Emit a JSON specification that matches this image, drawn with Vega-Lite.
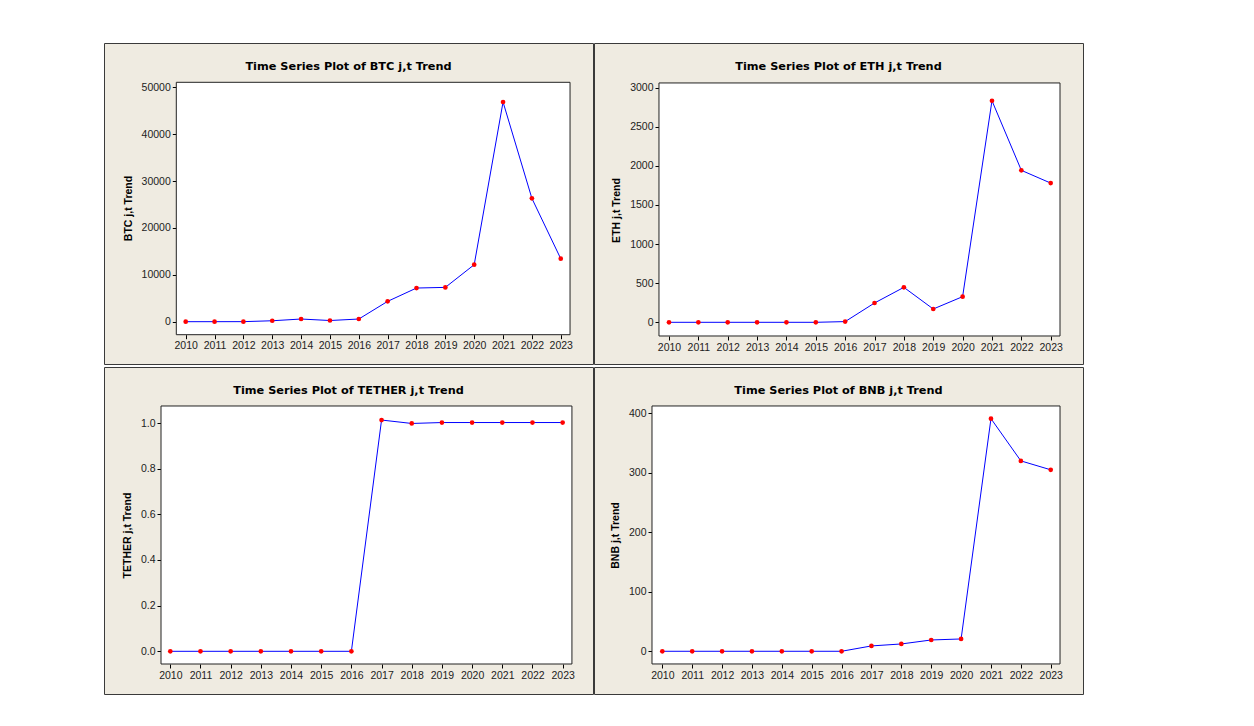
{
  "$schema": "https://vega.github.io/schema/vega-lite/v6.json",
  "background": "white",
  "padding": {"left": 103, "top": 42, "right": 0, "bottom": 0},
  "data": {"values": [
    {"year": 2010, "BTC": 0.3, "ETH": 0, "TETHER": 0, "BNB": 0},
    {"year": 2011, "BTC": 5, "ETH": 0, "TETHER": 0, "BNB": 0},
    {"year": 2012, "BTC": 10, "ETH": 0, "TETHER": 0, "BNB": 0},
    {"year": 2013, "BTC": 200, "ETH": 0, "TETHER": 0, "BNB": 0},
    {"year": 2014, "BTC": 570, "ETH": 0, "TETHER": 0, "BNB": 0},
    {"year": 2015, "BTC": 250, "ETH": 0, "TETHER": 0, "BNB": 0},
    {"year": 2016, "BTC": 570, "ETH": 9, "TETHER": 0, "BNB": 0},
    {"year": 2017, "BTC": 4340, "ETH": 247, "TETHER": 1.013, "BNB": 9},
    {"year": 2018, "BTC": 7180, "ETH": 447, "TETHER": 0.998, "BNB": 12.3},
    {"year": 2019, "BTC": 7320, "ETH": 170, "TETHER": 1.002, "BNB": 19},
    {"year": 2020, "BTC": 12160, "ETH": 328, "TETHER": 1.002, "BNB": 20.7},
    {"year": 2021, "BTC": 46860, "ETH": 2833, "TETHER": 1.002, "BNB": 391},
    {"year": 2022, "BTC": 26310, "ETH": 1943, "TETHER": 1.002, "BNB": 320},
    {"year": 2023, "BTC": 13440, "ETH": 1780, "TETHER": 1.002, "BNB": 305}
  ]},
  "bounds": "flush",
  "columns": 2,
  "spacing": {"row": 3, "column": 1},
  "concat": [
    {
      "width": 489, "height": 321,
      "title": {"text": "Time Series Plot of BTC j,t Trend"},
      "layer": [
        {"data": {"values": [{}]}, "mark": {"type": "rect", "fill": "white", "stroke": "#222", "strokeWidth": 1},
         "encoding": {
           "x": {"datum": 2009.674, "type": "quantitative", "axis": {"title": null, "values": [2010,2011,2012,2013,2014,2015,2016,2017,2018,2019,2020,2021,2022,2023], "format": "d", "offset": -29.3}},
           "x2": {"datum": 2023.322},
           "y": {"datum": -2773, "type": "quantitative", "axis": {"title": "BTC j,t Trend", "values": [0,10000,20000,30000,40000,50000], "format": "d", "offset": -72.3, "titleY": 165}},
           "y2": {"datum": 51067}}},
        {"mark": {"type": "line", "color": "#0000FF", "strokeWidth": 1},
         "encoding": {
           "x": {"field": "year", "type": "quantitative", "scale": {"domain": [2007.168, 2024.118], "nice": false, "zero": false},
                 "axis": {"title": null, "values": [2010,2011,2012,2013,2014,2015,2016,2017,2018,2019,2020,2021,2022,2023], "format": "d", "offset": -29.3}},
           "y": {"field": "BTC", "type": "quantitative", "scale": {"domain": [-9023, 59450], "nice": false, "zero": false},
                 "axis": {"title": "BTC j,t Trend", "values": [0,10000,20000,30000,40000,50000], "format": "d", "offset": -72.3, "titleY": 165}}}},
        {"mark": {"type": "circle", "color": "#FF0000", "opacity": 1, "size": 22},
         "encoding": {
           "x": {"field": "year", "type": "quantitative",
                 "axis": {"title": null, "values": [2010,2011,2012,2013,2014,2015,2016,2017,2018,2019,2020,2021,2022,2023], "format": "d", "offset": -29.3}},
           "y": {"field": "BTC", "type": "quantitative",
                 "axis": {"title": "BTC j,t Trend", "values": [0,10000,20000,30000,40000,50000], "format": "d", "offset": -72.3, "titleY": 165}}}}
      ]
    },
    {
      "width": 489, "height": 321,
      "title": {"text": "Time Series Plot of ETH j,t Trend"},
      "layer": [
        {"data": {"values": [{}]}, "mark": {"type": "rect", "fill": "white", "stroke": "#222", "strokeWidth": 1},
         "encoding": {
           "x": {"datum": 2009.659, "type": "quantitative", "axis": {"title": null, "values": [2010,2011,2012,2013,2014,2015,2016,2017,2018,2019,2020,2021,2022,2023], "format": "d", "offset": -28}},
           "x2": {"datum": 2023.317},
           "y": {"datum": -175, "type": "quantitative", "axis": {"title": "ETH j,t Trend", "values": [0,500,1000,1500,2000,2500,3000], "format": "d", "offset": -65, "titleY": 167}},
           "y2": {"datum": 3060}}},
        {"mark": {"type": "line", "color": "#0000FF", "strokeWidth": 1},
         "encoding": {
           "x": {"field": "year", "type": "quantitative", "scale": {"domain": [2007.446, 2024.10], "nice": false, "zero": false},
                 "axis": {"title": null, "values": [2010,2011,2012,2013,2014,2015,2016,2017,2018,2019,2020,2021,2022,2023], "format": "d", "offset": -28}},
           "y": {"field": "ETH", "type": "quantitative", "scale": {"domain": [-533, 3571], "nice": false, "zero": false},
                 "axis": {"title": "ETH j,t Trend", "values": [0,500,1000,1500,2000,2500,3000], "format": "d", "offset": -65, "titleY": 167}}}},
        {"mark": {"type": "circle", "color": "#FF0000", "opacity": 1, "size": 22},
         "encoding": {
           "x": {"field": "year", "type": "quantitative",
                 "axis": {"title": null, "values": [2010,2011,2012,2013,2014,2015,2016,2017,2018,2019,2020,2021,2022,2023], "format": "d", "offset": -28}},
           "y": {"field": "ETH", "type": "quantitative",
                 "axis": {"title": "ETH j,t Trend", "values": [0,500,1000,1500,2000,2500,3000], "format": "d", "offset": -65, "titleY": 167}}}}
      ]
    },
    {
      "width": 489, "height": 327,
      "title": {"text": "Time Series Plot of TETHER j,t Trend"},
      "layer": [
        {"data": {"values": [{}]}, "mark": {"type": "rect", "fill": "white", "stroke": "#222", "strokeWidth": 1},
         "encoding": {
           "x": {"datum": 2009.692, "type": "quantitative", "axis": {"title": null, "values": [2010,2011,2012,2013,2014,2015,2016,2017,2018,2019,2020,2021,2022,2023], "format": "d", "offset": -30}},
           "x2": {"datum": 2023.308},
           "y": {"datum": -0.0556, "type": "quantitative", "axis": {"title": "TETHER j,t Trend", "values": [0,0.2,0.4,0.6,0.8,1.0], "format": ".1f", "offset": -57, "titleY": 168}},
           "y2": {"datum": 1.0745}}},
        {"mark": {"type": "line", "color": "#0000FF", "strokeWidth": 1},
         "encoding": {
           "x": {"field": "year", "type": "quantitative", "scale": {"domain": [2007.803, 2024.006], "nice": false, "zero": false},
                 "axis": {"title": null, "values": [2010,2011,2012,2013,2014,2015,2016,2017,2018,2019,2020,2021,2022,2023], "format": "d", "offset": -30}},
           "y": {"field": "TETHER", "type": "quantitative", "scale": {"domain": [-0.187, 1.2453], "nice": false, "zero": false},
                 "axis": {"title": "TETHER j,t Trend", "values": [0,0.2,0.4,0.6,0.8,1.0], "format": ".1f", "offset": -57, "titleY": 168}}}},
        {"mark": {"type": "circle", "color": "#FF0000", "opacity": 1, "size": 22},
         "encoding": {
           "x": {"field": "year", "type": "quantitative",
                 "axis": {"title": null, "values": [2010,2011,2012,2013,2014,2015,2016,2017,2018,2019,2020,2021,2022,2023], "format": "d", "offset": -30}},
           "y": {"field": "TETHER", "type": "quantitative",
                 "axis": {"title": "TETHER j,t Trend", "values": [0,0.2,0.4,0.6,0.8,1.0], "format": ".1f", "offset": -57, "titleY": 168}}}}
      ]
    },
    {
      "width": 489, "height": 327,
      "title": {"text": "Time Series Plot of BNB j,t Trend"},
      "layer": [
        {"data": {"values": [{}]}, "mark": {"type": "rect", "fill": "white", "stroke": "#222", "strokeWidth": 1},
         "encoding": {
           "x": {"datum": 2009.655, "type": "quantitative", "axis": {"title": null, "values": [2010,2011,2012,2013,2014,2015,2016,2017,2018,2019,2020,2021,2022,2023], "format": "d", "offset": -30}},
           "x2": {"datum": 2023.311},
           "y": {"datum": -21.3, "type": "quantitative", "axis": {"title": "BNB j,t Trend", "values": [0,100,200,300,400], "format": "d", "offset": -58, "titleY": 168}},
           "y2": {"datum": 412.3}}},
        {"mark": {"type": "line", "color": "#0000FF", "strokeWidth": 1},
         "encoding": {
           "x": {"field": "year", "type": "quantitative", "scale": {"domain": [2007.714, 2024.08], "nice": false, "zero": false},
                 "axis": {"title": null, "values": [2010,2011,2012,2013,2014,2015,2016,2017,2018,2019,2020,2021,2022,2023], "format": "d", "offset": -30}},
           "y": {"field": "BNB", "type": "quantitative", "scale": {"domain": [-71.8, 477.8], "nice": false, "zero": false},
                 "axis": {"title": "BNB j,t Trend", "values": [0,100,200,300,400], "format": "d", "offset": -58, "titleY": 168}}}},
        {"mark": {"type": "circle", "color": "#FF0000", "opacity": 1, "size": 22},
         "encoding": {
           "x": {"field": "year", "type": "quantitative",
                 "axis": {"title": null, "values": [2010,2011,2012,2013,2014,2015,2016,2017,2018,2019,2020,2021,2022,2023], "format": "d", "offset": -30}},
           "y": {"field": "BNB", "type": "quantitative",
                 "axis": {"title": "BNB j,t Trend", "values": [0,100,200,300,400], "format": "d", "offset": -58, "titleY": 168}}}}
      ]
    }
  ],
  "config": {
    "view": {"fill": "#EFEBE1", "stroke": "#3a3a3a", "strokeWidth": 1},
    "axis": {"domain": false, "grid": false, "tickSize": 4, "tickColor": "#000", "labelFont": "Liberation Sans", "labelFontSize": 10.5, "labelColor": "#222", "labelPadding": 2, "labelOverlap": false, "labelFlush": false, "titleFont": "Liberation Sans", "titleFontSize": 10.5, "titleFontWeight": "bold", "titleColor": "#000", "titlePadding": 8},
    "title": {"font": "DejaVu Sans", "fontSize": 11.3, "fontWeight": "bold", "color": "#000", "anchor": "middle", "offset": -29}
  }
}
